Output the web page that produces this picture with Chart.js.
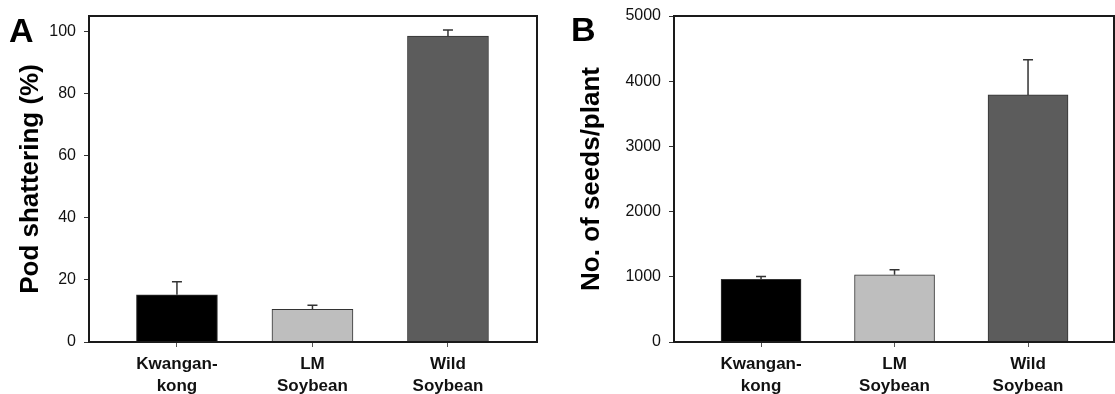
<!DOCTYPE html>
<html>
<head>
<meta charset="utf-8">
<script src="https://cdn.jsdelivr.net/npm/chart.js@4"></script>
<style>
  body { margin: 0; background: #fff; }
  #wrap { position: relative; width: 1115px; height: 394px; overflow: hidden; }
  .panel { position: absolute; top: 0; }
  .letter { position: absolute; font: bold 34px "Liberation Sans", Arial, sans-serif; color: #000; line-height: 1; }
</style>
</head>
<body>
<div id="wrap">
  <div class="panel" style="left:0px"><canvas id="chartA" width="548" height="394"></canvas></div>
  <div class="panel" style="left:555px"><canvas id="chartB" width="560" height="394"></canvas></div>
  <div class="letter" style="left:9px; top:13px">A</div>
  <div class="letter" style="left:571px; top:12px">B</div>
</div>
<script>
// values (mean, upper error bar)
const lines = ["Kwangan-,kong", "LM,Soybean", "Wild,Soybean"];
const shatterMean = [15.2, 10.5, 98.5];
const shatterErr = [4.2, 1.3, 2.0];
const seedMean = [960, 1030, 3790];
const seedErr = [45, 80, 540];
const barColors = ["#000000", "#bebebe", "#5c5c5c"];

const labelFont = '"Liberation Sans", Arial, sans-serif';

// up-only error bars + box frame round the plot
const errorBars = {
  id: "errorBars",
  afterDatasetsDraw(chart) {
    const errs = chart.options.plugins.errorBars.errors;
    const meta = chart.getDatasetMeta(0);
    const y = chart.scales.y;
    const ctx = chart.ctx;
    ctx.save();
    ctx.strokeStyle = "#333";
    ctx.lineWidth = 1.5;
    meta.data.forEach((bar, i) => {
      const v = chart.data.datasets[0].data[i].y;
      const top = y.getPixelForValue(v + errs[i]);
      const base = y.getPixelForValue(v);
      ctx.beginPath();
      ctx.moveTo(bar.x, base);
      ctx.lineTo(bar.x, top);
      ctx.moveTo(bar.x - 5, top);
      ctx.lineTo(bar.x + 5, top);
      ctx.stroke();
    });
    const a = chart.chartArea;
    ctx.strokeStyle = "#1a1a1a";
    ctx.lineWidth = 2;
    ctx.strokeRect(a.left, a.top, a.right - a.left, a.bottom - a.top);
    ctx.restore();
  },
};

function makeChart(id, means, errs, opts) {
  const data = means.map((v, i) => ({ x: i, y: v }));
  return new Chart(document.getElementById(id), {
    type: "bar",
    data: {
      datasets: [{
        data,
        backgroundColor: barColors,
        borderColor: "#333",
        borderWidth: 1,
        barThickness: opts.barWidth,
      }],
    },
    options: {
      responsive: false,
      animation: false,
      layout: { padding: { left: 0, top: 15, right: opts.padRight, bottom: 0 } },
      plugins: {
        legend: { display: false },
        tooltip: { enabled: false },
        errorBars: { errors: errs },
      },
      scales: {
        x: {
          type: "linear",
          offset: false,
          min: opts.xMin,
          max: opts.xMax,
          border: { display: false },
          grid: { offset: false, drawOnChartArea: false, tickLength: 5, color: "#555" },
          afterBuildTicks: (s) => { s.ticks = [{ value: 0 }, { value: 1 }, { value: 2 }]; },
          afterFit: (s) => { s.height = 52; },
          ticks: {
            autoSkip: false,
            maxRotation: 0,
            padding: 6,
            color: "#111",
            font: { family: labelFont, size: 17, weight: "bold", lineHeight: 1.3 },
            callback: (v) => lines[v] ? lines[v].split(",") : "",
          },
        },
        y: {
          min: 0,
          max: opts.yMax,
          border: { display: false },
          grid: { drawOnChartArea: false, tickLength: 5, color: "#333" },
          afterFit: (s) => { s.width = opts.axisWidth; },
          ticks: {
            stepSize: opts.step,
            includeBounds: false,
            padding: 8,
            color: "#111",
            font: { family: labelFont, size: 16, lineHeight: 1 },
            callback: (v) => String(v),
          },
          title: {
            display: true,
            text: opts.title,
            color: "#000",
            padding: { top: opts.titlePad, bottom: 0 },
            font: { family: labelFont, size: 26, weight: "bold" },
          },
        },
      },
    },
    plugins: [errorBars],
  });
}

makeChart("chartA", shatterMean, shatterErr, {
  title: "Pod shattering (%)", yMax: 105, step: 20,
  xMin: -0.649, xMax: 2.657, axisWidth: 89, padRight: 11, barWidth: 81, titlePad: 15,
});
makeChart("chartB", seedMean, seedErr, {
  title: "No. of seeds/plant", yMax: 5000, step: 1000,
  xMin: -0.652, xMax: 2.644, axisWidth: 119, padRight: 1, barWidth: 80, titlePad: 21,
});
</script>
</body>
</html>
